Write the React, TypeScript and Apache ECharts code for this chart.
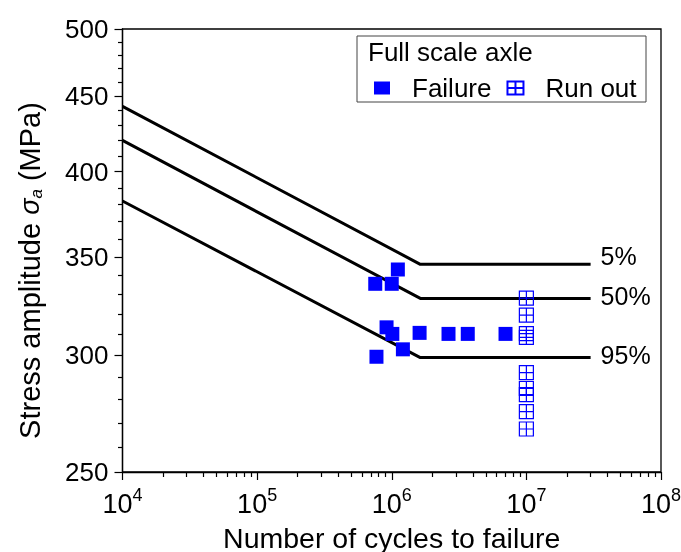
import React, { useEffect, useRef } from "react";
import * as echarts from "echarts";

// ---- data ----
const xTickExponents = [4, 5, 6, 7, 8];
const minorMultipliers = [2, 3, 4, 5, 6, 7, 8, 9];
const yTickLabels = [250, 300, 350, 400, 450, 500];
const yMinorTicks = [260, 270, 280, 290, 310, 320, 330, 340, 360, 370, 380, 390, 410, 420, 430, 440, 460, 470, 480, 490];

const failureCycles = [7.54e5, 1.0e6, 1.11e6, 9.15e5, 1.01e6, 1.61e6, 2.64e6, 3.67e6, 7.0e6, 1.21e6, 7.7e5];
const failureStress = [335.6, 335.6, 343.2, 313.5, 310.3, 310.8, 310.3, 310.3, 310.3, 302.9, 299.4];

const runOutCycles = [1e7, 1e7, 1e7, 1e7, 1e7, 1e7, 1e7, 1e7, 1e7];
const runOutStress = [328.2, 319.6, 310.4, 308.6, 292.1, 284.9, 282.2, 274.8, 267.4];

const curveCycles = [1e4, 1.63e6, 3e7];
const curve5 = [443, 346, 346];
const curve50 = [420, 328, 328];
const curve95 = [382, 299, 299];
const curveNames = ["5%", "50%", "95%"];
const curveLabelOffsets = [-8, -2, -3];

const FONT = "'Liberation Sans', Arial, Helvetica, sans-serif";
const BLUE = "#0000ff";
const runOutPath = "path://M0,0H10V10H0ZM5,0V10M0,5H10";

export default function App() {
  const ref = useRef<HTMLDivElement>(null);
  useEffect(() => {
    document.body.style.margin = "0";
    const chart = echarts.init(ref.current!, null, { renderer: "svg" });
    const lg = Math.log10;
    const xMinor: number[] = [];
    xTickExponents.slice(0, -1).forEach((e) => minorMultipliers.forEach((m) => xMinor.push(lg(m) + e)));

    const curves = [curve5, curve50, curve95].map((c, i) => ({
      type: "line",
      name: curveNames[i],
      data: curveCycles.map((x, j) => [lg(x), lg(c[j])]),
      symbol: "none",
      lineStyle: { color: "#000", width: 3 },
      silent: true,
      endLabel: {
        show: true,
        formatter: curveNames[i],
        fontSize: 25,
        fontFamily: FONT,
        color: "#000",
        distance: 10,
        offset: [0, curveLabelOffsets[i]],
      },
      z: 3,
    }));

    const axisLineStyle = { color: "#000", width: 1.3 };

    chart.setOption({
      animation: false,
      grid: {
        left: 122.5,
        right: 20,
        top: 29,
        bottom: 80,
        containLabel: false,
        outerBoundsMode: "none",
        show: true,
        borderColor: "#000",
        borderWidth: 1.3,
        backgroundColor: "transparent",
      },
      xAxis: [
        {
          type: "value",
          min: 4,
          max: 8,
          interval: 1,
          position: "bottom",
          axisLine: { show: true, lineStyle: axisLineStyle },
          axisTick: { show: true, length: 8, lineStyle: { color: "#000", width: 1.2 } },
          splitLine: { show: false },
          axisLabel: {
            margin: 14,
            formatter: (v: number) => `{b|10}{s|${Math.round(v)}}`,
            rich: {
              b: { fontSize: 27, fontFamily: FONT, color: "#000", padding: [4, 0, 0, 0] },
              s: { fontSize: 18, fontFamily: FONT, color: "#000", verticalAlign: "top", lineHeight: 18 },
            },
          },
          name: "Number of cycles to failure",
          nameLocation: "middle",
          nameGap: 51,
          nameMoveOverlap: false,
          nameTextStyle: { fontSize: 28.5, fontFamily: FONT, color: "#000" },
        },
        {
          type: "value",
          min: 4,
          max: 8,
          position: "bottom",
          axisLine: { show: false },
          axisTick: { show: true, length: 5, customValues: xMinor, lineStyle: { color: "#000", width: 1.2 } },
          axisLabel: { show: false },
          splitLine: { show: false },
        },
      ],
      yAxis: [
        {
          type: "value",
          min: lg(250),
          max: lg(500),
          position: "left",
          axisLine: { show: true, lineStyle: axisLineStyle },
          axisTick: { show: true, length: 8, customValues: yTickLabels.map(lg), lineStyle: { color: "#000", width: 1.2 } },
          splitLine: { show: false },
          axisLabel: {
            customValues: yTickLabels.map(lg),
            formatter: (v: number) => String(Math.round(Math.pow(10, v))),
            fontSize: 26,
            fontFamily: FONT,
            color: "#000",
            margin: 14,
          },
          name: "Stress amplitude {i|σ}{sub|a} (MPa)",
          nameLocation: "middle",
          nameGap: 78,
          nameMoveOverlap: false,
          nameTextStyle: {
            fontSize: 29,
            fontFamily: FONT,
            color: "#000",
            padding: [0, 40, 0, 0],
            rich: {
              i: { fontSize: 27, fontStyle: "italic", fontFamily: FONT, color: "#000" },
              sub: { fontSize: 17, fontStyle: "italic", fontFamily: FONT, color: "#000", verticalAlign: "bottom", lineHeight: 17 },
            },
          },
        },
        {
          type: "value",
          min: lg(250),
          max: lg(500),
          position: "left",
          axisLine: { show: false },
          axisTick: { show: true, length: 4.5, customValues: yMinorTicks.map(lg), lineStyle: { color: "#000", width: 1.2 } },
          axisLabel: { show: false },
          splitLine: { show: false },
        },
      ],
      legend: {
        left: 374,
        top: 75,
        padding: 0,
        itemWidth: 16,
        itemHeight: 13,
        itemGap: 15,
        symbolKeepAspect: false,
        selectedMode: false,
        textStyle: { fontSize: 26, fontFamily: FONT, color: "#000", padding: [0, 0, 0, 17] },
        data: [
          { name: "Failure", icon: "rect" },
          { name: "Run out", icon: runOutPath },
        ],
      },
      graphic: [
        {
          type: "rect",
          shape: { x: 357, y: 36, width: 289, height: 66 },
          style: { fill: "none", stroke: "#444", lineWidth: 1 },
          silent: true,
        },
        {
          type: "text",
          style: { x: 368, y: 52, text: "Full scale axle", fontSize: 26, fontFamily: FONT, fill: "#000", textVerticalAlign: "middle" },
          silent: true,
        },
      ],
      series: [
        ...curves,
        {
          type: "scatter",
          name: "Failure",
          data: failureCycles.map((x, i) => [lg(x), lg(failureStress[i])]),
          symbol: "rect",
          symbolSize: 14,
          itemStyle: { color: BLUE, opacity: 1 },
          z: 4,
        },
        {
          type: "scatter",
          name: "Run out",
          data: runOutCycles.map((x, i) => [lg(x), lg(runOutStress[i])]),
          symbol: runOutPath,
          symbolSize: 14,
          itemStyle: { color: "rgba(0,0,0,0)", borderColor: BLUE, borderWidth: 1.2, opacity: 1 },
          z: 4,
        },
      ],
    });
    return () => chart.dispose();
  }, []);
  return <div ref={ref} style={{ position: "fixed", left: 0, top: 0, width: 681, height: 552 }} />;
}
